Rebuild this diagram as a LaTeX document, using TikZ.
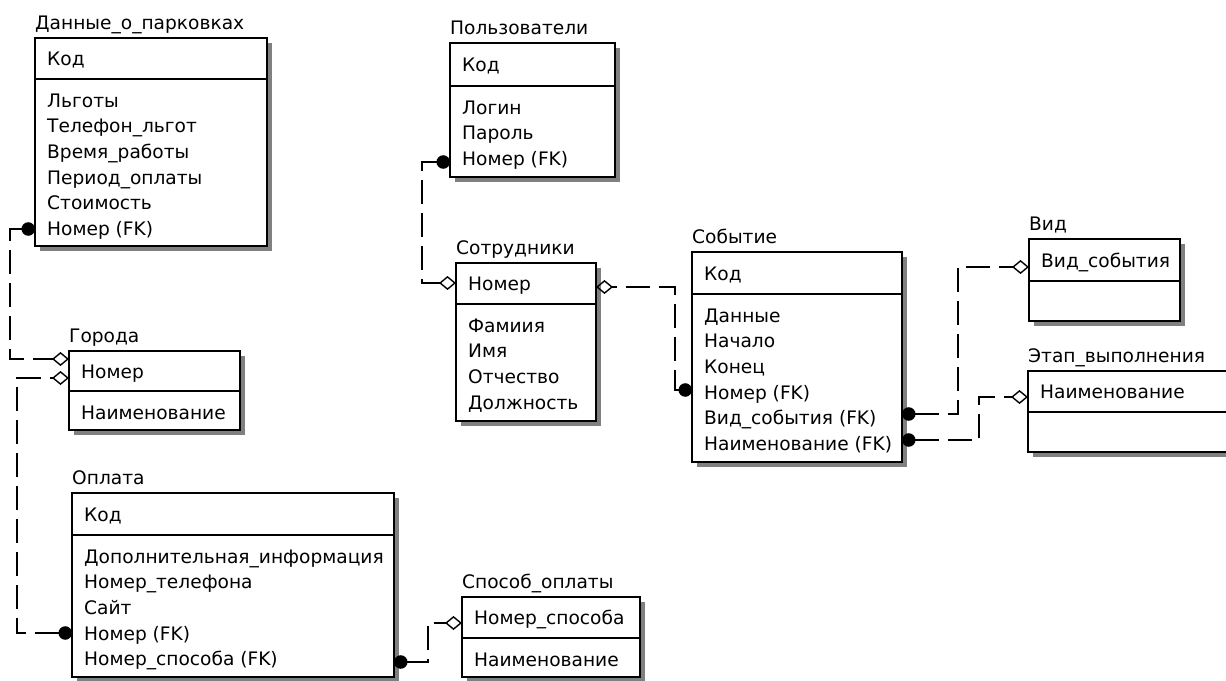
\documentclass[tikz,border=0pt]{standalone}
\usepackage{fontspec}
\setmainfont{DejaVu Sans}
\usetikzlibrary{arrows.meta}

% One ER entity: #1 name, #2 title, #3 left, #4 top, #5 right,
% #6 key separator, #7 bottom, #8 key attribute, #9 other attributes
\newcommand\erentity[9]{%
  \pgfmathsetmacro\entw{#5-#3}%
  \pgfmathsetmacro\enth{#7-#4}%
  \fill[entshadow] (#3+5,#4+5) rectangle (#5+5,#7+5);
  \node[entbox,minimum width=\entw pt,minimum height=\enth pt] (#1) at (#3,#4) {};
  \draw[sepline] (#1.west |- 0,#6) -- (#1.east |- 0,#6);
  \node[lbl] (#1-title) at (#3,#4-9) {#2};
  \node[lbl] (#1-key) at (#3+12,{(#4+#6)/2+7}) {#8};
  \if\relax\detokenize{#9}\relax\else
    \foreach \a [count=\i] in {#9}
      \node[lbl] (#1-a\i) at (#3+12,{#6+21+(\i-1)*25.7+7}) {\a};
  \fi
}

\begin{document}
\begin{tikzpicture}[x=1pt,y=-1pt,
  entbox/.style={draw=black,fill=white,line width=1.4pt,inner sep=0pt,outer sep=0pt,anchor=north west},
  entshadow/.style={fill=black!50},
  sepline/.style={line width=1.4pt},
  lbl/.style={anchor=base west,inner sep=0pt,font=\fontsize{18.6}{22}\selectfont},
  rel/.style={line width=1.4pt,dash pattern=on 24pt off 9pt,
    {Circle[length=13.5pt]}-{Diamond[open,length=17pt,width=14pt]}}
]
\useasboundingbox (0,0) rectangle (1226,680);
\clip (0,0) rectangle (1226,680);

\erentity{park}{Данные\_о\_парковках}{35}{38}{267}{79}{246}{Код}{Льготы,Телефон\_льгот,Время\_работы,Период\_оплаты,Стоимость,Номер (FK)}
\erentity{goroda}{Города}{69}{351}{240}{391}{430}{Номер}{Наименование}
\erentity{oplata}{Оплата}{72}{493}{394}{535}{677}{Код}{Дополнительная\_информация,Номер\_телефона,Сайт,Номер (FK),Номер\_способа (FK)}
\erentity{sposob}{Способ\_оплаты}{462}{597}{640}{638}{677}{Номер\_способа}{Наименование}
\erentity{users}{Пользователи}{450}{43}{615}{86}{177}{Код}{Логин,Пароль,Номер (FK)}
\erentity{staff}{Сотрудники}{456}{263}{596}{304}{421}{Номер}{Фамиия,Имя,Отчество,Должность}
\erentity{event}{Событие}{692}{252}{902}{294}{462}{Код}{Данные,Начало,Конец,Номер (FK),Вид\_события (FK),Наименование (FK)}
\erentity{vid}{Вид}{1029}{239}{1180}{281}{321}{Вид\_события}{}
\erentity{etap}{Этап\_выполнения}{1028}{371}{1245}{412}{452}{Наименование}{}

% relationships: filled dot on the child side, open diamond on the parent side
\draw[rel] (park.west |- 0,229) -- ++(-25,0) |- (goroda.west |- 0,359);
\draw[rel] (oplata.west |- 0,633) -- ++(-55,0) |- (goroda.west |- 0,378);
\draw[rel] (oplata.east |- 0,662) -- ++(34,0) |- (sposob.west |- 0,623);
\draw[rel] (users.west |- 0,162) -- ++(-28,0) |- (staff.west |- 0,283);
\draw[rel] (event.west |- 0,390) -- ++(-17,0) |- (staff.east |- 0,287);
\draw[rel] (event.east |- 0,414) -- ++(56,0) |- (vid.west |- 0,267);
\draw[rel] (event.east |- 0,440) -- ++(77,0) |- (etap.west |- 0,397);
\end{tikzpicture}
\end{document}
